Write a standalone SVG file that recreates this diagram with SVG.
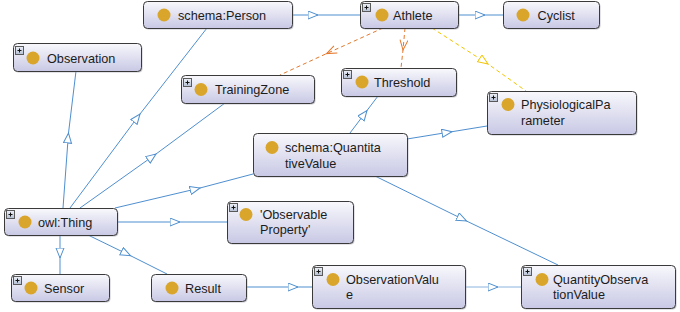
<svg xmlns="http://www.w3.org/2000/svg" xmlns:xlink="http://www.w3.org/1999/xlink" width="680" height="312" viewBox="0 0 680 312">
  <style>
    .box { fill: url(#boxFill); stroke: #3a3a3a; stroke-width: 1; }
    .shadow { fill: #9a9aa8; opacity: 0.55; }
    .dot { fill: #d9a52b; }
    .label { font-family: "Liberation Sans", Arial, sans-serif; font-size: 12.7px; fill: #1c1c1c; }
    .sub { fill: none; stroke: #4f8fcf; stroke-width: 1; marker-mid: url(#openTri); }
    .sub.light { stroke: #8ab4de; }
    .orange { fill: none; stroke: #e5782c; stroke-width: 1; stroke-dasharray: 4 3; marker-mid: url(#openTriOrange); }
    .yellow { fill: none; stroke: #f2c400; stroke-width: 1; stroke-dasharray: 4 3; marker-mid: url(#openTriYellow); }
  </style>
  <defs>
    <linearGradient id="boxFill" x1="0" y1="0" x2="0" y2="1">
      <stop offset="0" stop-color="#f8f8fc"/>
      <stop offset="1" stop-color="#c8c8e5"/>
    </linearGradient>
    <linearGradient id="plusFill" x1="0" y1="0" x2="0" y2="1">
      <stop offset="0" stop-color="#eef1f7"/>
      <stop offset="1" stop-color="#b4bfd3"/>
    </linearGradient>
    <marker id="openTri" markerUnits="userSpaceOnUse" markerWidth="12" markerHeight="10" refX="10.5" refY="4.5" orient="auto">
      <path d="M0.5,0.5 L10.5,4.5 L0.5,8.5 Z" fill="#ffffff" stroke="#4f8fcf" stroke-width="1"/>
    </marker>
    <marker id="openTriOrange" markerUnits="userSpaceOnUse" markerWidth="12" markerHeight="10" refX="10.5" refY="4.5" orient="auto">
      <path d="M0.5,0.5 L10.5,4.5 L0.5,8.5" fill="none" stroke="#e5782c" stroke-width="1"/>
    </marker>
    <marker id="openTriYellow" markerUnits="userSpaceOnUse" markerWidth="12" markerHeight="10" refX="10.5" refY="4.5" orient="auto">
      <path d="M0.5,0.5 L10.5,4.5 L0.5,8.5 Z" fill="#ffffff" stroke="#f2c400" stroke-width="1"/>
    </marker>
    <g id="plus">
      <rect x="0.5" y="0.5" width="8" height="8" fill="url(#plusFill)" stroke="#5a5a5a" stroke-width="1"/>
      <path d="M2.5,4.5 H6.5 M4.5,2.5 V6.5" stroke="#111" stroke-width="1"/>
    </g>
  </defs>

  <rect width="680" height="312" fill="#ffffff"/>

  <!-- connectors: mid-line open triangles point at the subclass / target -->
  <g id="connectors">
    <path class="sub" d="M292,15 L318,15 L360,15"/>
    <path class="sub" d="M458,15 L485,15 L503,15"/>
    <path class="sub" d="M70,208 L140,114 L207,28"/>
    <path class="sub" d="M63,208 L68.5,133 L76,71"/>
    <path class="sub" d="M80,208 L156,154 L225,103"/>
    <path class="sub" d="M115,208 L200,188 L253,174"/>
    <path class="sub" d="M117,222 L180,222 L227,222"/>
    <path class="sub" d="M60,235 L60,258 L60,274"/>
    <path class="sub" d="M88,235 L130.5,255.7 L167,274"/>
    <path class="sub" d="M375,176 L466.5,221 L558,265"/>
    <path class="sub" d="M246,287 L298,287 L312,287"/>
    <path class="sub light" d="M465,287 L498,287 L521,287"/>
    <path class="sub" d="M407,139 L452,131.7 L487,126"/>
    <path class="sub" d="M350,133 L367,110.5 L378,96"/>
    <path class="orange" d="M383,28 L326.5,53.6 L280,75"/>
    <path class="orange" d="M405,28 L403,50 L401,68"/>
    <path class="yellow" d="M432,28 L488,64 L526,91"/>
  </g>

  <g id="node-schema-person">
    <rect class="shadow" x="144.5" y="2.5" width="149" height="27" rx="4"/>
    <rect class="box" x="143.5" y="1.5" width="149" height="27" rx="4"/>
    <circle class="dot" cx="164" cy="15" r="6.5"/>
    <text class="label" x="178" y="19.5">schema:Person</text>
  </g>

  <g id="node-athlete">
    <rect class="shadow" x="361.5" y="2.5" width="98" height="27" rx="4"/>
    <rect class="box" x="360.5" y="1.5" width="98" height="27" rx="4"/>
    <use xlink:href="#plus" x="362" y="3"/>
    <circle class="dot" cx="382" cy="15" r="6.5"/>
    <text class="label" x="393" y="19.5">Athlete</text>
  </g>

  <g id="node-cyclist">
    <rect class="shadow" x="504.5" y="2.5" width="96" height="27" rx="4"/>
    <rect class="box" x="503.5" y="1.5" width="96" height="27" rx="4"/>
    <circle class="dot" cx="523" cy="15" r="6.5"/>
    <text class="label" x="537.5" y="19.5">Cyclist</text>
  </g>

  <g id="node-observation">
    <rect class="shadow" x="14.5" y="44.5" width="128" height="28" rx="4"/>
    <rect class="box" x="13.5" y="43.5" width="128" height="28" rx="4"/>
    <use xlink:href="#plus" x="15" y="46"/>
    <circle class="dot" cx="33" cy="58" r="6.5"/>
    <text class="label" x="47" y="62.5">Observation</text>
  </g>

  <g id="node-training-zone">
    <rect class="shadow" x="182.5" y="76.5" width="133" height="28" rx="4"/>
    <rect class="box" x="181.5" y="75.5" width="133" height="28" rx="4"/>
    <use xlink:href="#plus" x="183" y="78"/>
    <circle class="dot" cx="201" cy="89.5" r="6.5"/>
    <text class="label" x="215" y="94">TrainingZone</text>
  </g>

  <g id="node-threshold">
    <rect class="shadow" x="342.5" y="69.5" width="115" height="28" rx="4"/>
    <rect class="box" x="341.5" y="68.5" width="115" height="28" rx="4"/>
    <use xlink:href="#plus" x="343" y="70"/>
    <circle class="dot" cx="362" cy="82" r="6.5"/>
    <text class="label" x="374" y="86.5">Threshold</text>
  </g>

  <g id="node-physiological-parameter">
    <rect class="shadow" x="488.5" y="92.5" width="149" height="43" rx="4"/>
    <rect class="box" x="487.5" y="91.5" width="149" height="43" rx="4"/>
    <use xlink:href="#plus" x="489" y="93"/>
    <circle class="dot" cx="508" cy="104.5" r="6.5"/>
    <text class="label" x="521" y="108.5">PhysiologicalPa</text>
    <text class="label" x="521" y="125">rameter</text>
  </g>

  <g id="node-schema-quantitative-value">
    <rect class="shadow" x="254.5" y="134.5" width="154" height="43" rx="4"/>
    <rect class="box" x="253.5" y="133.5" width="154" height="43" rx="4"/>
    <circle class="dot" cx="272" cy="147.5" r="6.5"/>
    <text class="label" x="285" y="151.5">schema:Quantita</text>
    <text class="label" x="285" y="167.5">tiveValue</text>
  </g>

  <g id="node-owl-thing">
    <rect class="shadow" x="5.5" y="209.5" width="113" height="27" rx="4"/>
    <rect class="box" x="4.5" y="208.5" width="113" height="27" rx="4"/>
    <use xlink:href="#plus" x="6" y="210"/>
    <circle class="dot" cx="25" cy="222" r="6.5"/>
    <text class="label" x="38" y="226.5">owl:Thing</text>
  </g>

  <g id="node-observable-property">
    <rect class="shadow" x="228.5" y="202.5" width="126" height="42" rx="4"/>
    <rect class="box" x="227.5" y="201.5" width="126" height="42" rx="4"/>
    <use xlink:href="#plus" x="229" y="203"/>
    <circle class="dot" cx="246" cy="214.5" r="6.5"/>
    <text class="label" x="260" y="218.5">'Observable</text>
    <text class="label" x="260" y="234">Property'</text>
  </g>

  <g id="node-sensor">
    <rect class="shadow" x="12.5" y="275.5" width="98" height="27" rx="4"/>
    <rect class="box" x="11.5" y="274.5" width="98" height="27" rx="4"/>
    <use xlink:href="#plus" x="13" y="276"/>
    <circle class="dot" cx="31" cy="288" r="6.5"/>
    <text class="label" x="44" y="292.5">Sensor</text>
  </g>

  <g id="node-result">
    <rect class="shadow" x="152.5" y="275.5" width="95" height="27" rx="4"/>
    <rect class="box" x="151.5" y="274.5" width="95" height="27" rx="4"/>
    <circle class="dot" cx="172" cy="288" r="6.5"/>
    <text class="label" x="185" y="292.5">Result</text>
  </g>

  <g id="node-observation-value">
    <rect class="shadow" x="313.5" y="266.5" width="153" height="43" rx="4"/>
    <rect class="box" x="312.5" y="265.5" width="153" height="43" rx="4"/>
    <use xlink:href="#plus" x="314" y="267"/>
    <circle class="dot" cx="333" cy="279.5" r="6.5"/>
    <text class="label" x="346" y="283.5">ObservationValu</text>
    <text class="label" x="346" y="299">e</text>
  </g>

  <g id="node-quantity-observation-value">
    <rect class="shadow" x="522.5" y="266.5" width="154" height="43" rx="4"/>
    <rect class="box" x="521.5" y="265.5" width="154" height="43" rx="4"/>
    <use xlink:href="#plus" x="523" y="267"/>
    <circle class="dot" cx="542" cy="279.5" r="6.5"/>
    <text class="label" x="553" y="283.5">QuantityObserva</text>
    <text class="label" x="553" y="299">tionValue</text>
  </g>
</svg>
